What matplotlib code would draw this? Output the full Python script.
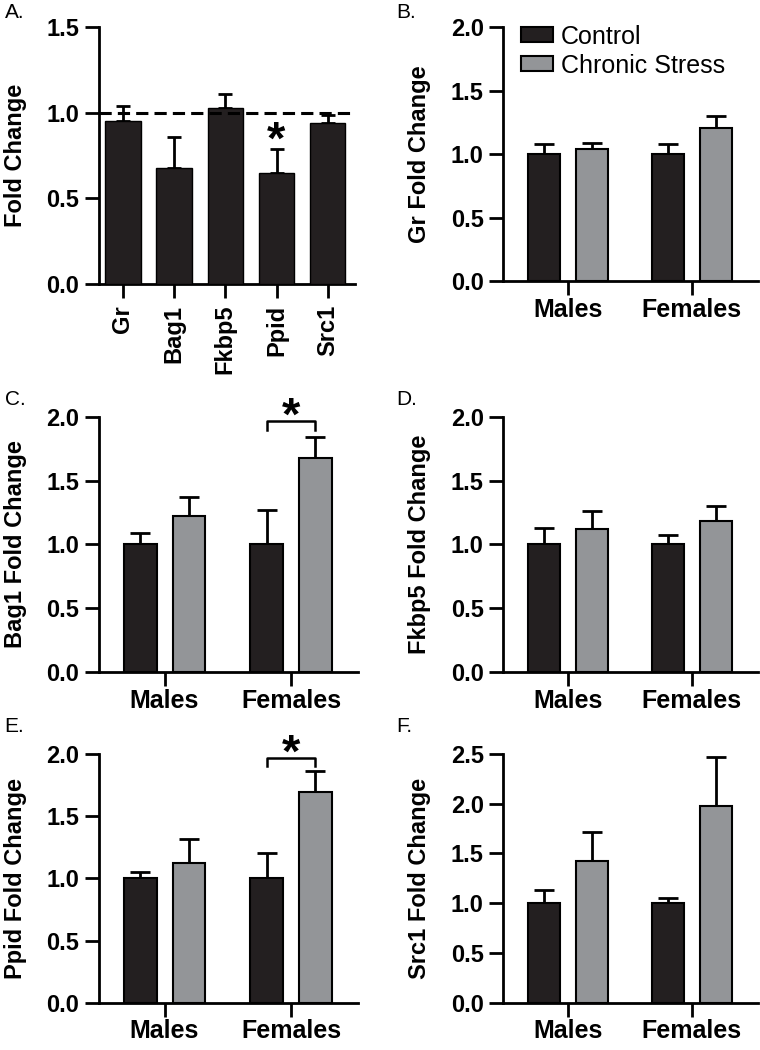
import matplotlib
matplotlib.use("Agg")
import matplotlib.pyplot as plt
import matplotlib.patches as mpatches

plt.rcParams["font.family"] = ["Liberation Sans", "DejaVu Sans"]

# ---- Data ---------------------------------------------------
genes = ["Gr", "Bag1", "Fkbp5", "Ppid", "Src1"]
fold_a = [0.95, 0.68, 1.03, 0.65, 0.94]
err_a = [0.09, 0.18, 0.08, 0.14, 0.05]

groups = ["Males", "Females"]
series = ["Control", "Chronic Stress"]

gr_ctrl, gr_ctrl_err = [1.00, 1.00], [0.08, 0.08]
gr_cs, gr_cs_err = [1.04, 1.21], [0.05, 0.09]

bag1_ctrl, bag1_ctrl_err = [1.00, 1.00], [0.09, 0.27]
bag1_cs, bag1_cs_err = [1.22, 1.68], [0.15, 0.16]

fkbp5_ctrl, fkbp5_ctrl_err = [1.00, 1.00], [0.13, 0.07]
fkbp5_cs, fkbp5_cs_err = [1.12, 1.18], [0.14, 0.12]

ppid_ctrl, ppid_ctrl_err = [1.00, 1.00], [0.05, 0.20]
ppid_cs, ppid_cs_err = [1.12, 1.69], [0.20, 0.17]

src1_ctrl, src1_ctrl_err = [1.00, 1.00], [0.13, 0.05]
src1_cs, src1_cs_err = [1.42, 1.98], [0.30, 0.49]

BLACK = "#231f20"
GREY = "#939598"
LW = 2.0
TICK_FS = 17
LAB_FS = 17

fig = plt.figure(figsize=(7.6, 10.5), dpi=100)


def style_axes(ax):
    for s in ["top", "right"]:
        ax.spines[s].set_visible(False)
    for s in ["left", "bottom"]:
        ax.spines[s].set_linewidth(LW)
    ax.tick_params(axis="both", width=LW, length=10, direction="out")
    ax.tick_params(axis="y", pad=4)
    for lab in ax.get_yticklabels():
        lab.set_fontweight("bold")
        lab.set_fontsize(TICK_FS)


def grouped(rect, ctrl, ctrl_err, cs, cs_err, ylabel, ymax, step, sig=None):
    ax = fig.add_axes(rect)
    x = range(len(groups))
    off, w = 0.193, 0.26
    xc = [i - off for i in x]
    xs = [i + off for i in x]
    ax.bar(xc, ctrl, w, color=BLACK, edgecolor="black", linewidth=1.5, zorder=3)
    ax.bar(xs, cs, w, color=GREY, edgecolor="black", linewidth=1.5, zorder=3)
    # one-sided error bars
    ax.errorbar(xc, ctrl, yerr=[[0] * 2, ctrl_err], fmt="none", ecolor="black",
                elinewidth=LW, capsize=7, capthick=LW, zorder=2)
    ax.errorbar(xs, cs, yerr=[[0] * 2, cs_err], fmt="none", ecolor="black",
                elinewidth=LW, capsize=7, capthick=LW, zorder=2)
    ax.set_xlim(-0.52, 1.53)
    ax.set_ylim(0, ymax)
    ticks = [round(i * step, 2) for i in range(int(round(ymax / step)) + 1)]
    ax.set_yticks(ticks)
    ax.set_yticklabels([f"{t:.1f}" for t in ticks])
    ax.set_xticks(list(x))
    ax.set_xticklabels(groups, fontsize=18, fontweight="bold")
    ax.set_ylabel(ylabel, fontsize=LAB_FS, fontweight="bold", labelpad=14)
    style_axes(ax)
    ax.tick_params(axis="x", pad=2)
    if sig is not None:
        i = sig
        top, drop = 1.97, 1.90
        ax.plot([xc[i], xc[i], xs[i], xs[i]], [drop, top, top, drop],
                color="black", lw=1.8, clip_on=False)
        ax.text((xc[i] + xs[i]) / 2, top - 0.07, "*", ha="center", va="baseline",
                fontsize=34, fontweight="bold", clip_on=False)
    return ax


# ---- Panel A ------------------------------------------------
axA = fig.add_axes([0.130, 0.7295, 0.337, 0.2445])
xa = range(len(genes))
axA.bar(xa, fold_a, 0.69, color=BLACK, edgecolor="black", zorder=3)
axA.errorbar(xa, fold_a, yerr=[[0] * 5, err_a], fmt="none", ecolor="black",
             elinewidth=LW, capsize=5, capthick=LW, zorder=2)
axA.axhline(1.0, color="black", lw=2.2, ls=(0, (4, 2)), zorder=4)
axA.set_xlim(-0.47, 4.53)
axA.set_ylim(0, 1.5)
axA.set_yticks([0, 0.5, 1.0, 1.5])
axA.set_yticklabels(["0.0", "0.5", "1.0", "1.5"])
axA.set_xticks(list(xa))
axA.set_xticklabels(genes, rotation=90, fontsize=TICK_FS, fontweight="bold")
axA.set_ylabel("Fold Change", fontsize=LAB_FS, fontweight="bold", labelpad=14)
style_axes(axA)
axA.tick_params(axis="x", pad=5)
axA.text(3, 0.76, "*", ha="center", va="baseline", fontsize=34, fontweight="bold")

# ---- Panels B-F ---------------------------------------------
axB = grouped([0.662, 0.732, 0.335, 0.242], gr_ctrl, gr_ctrl_err, gr_cs, gr_cs_err,
              "Gr Fold Change", 2.0, 0.5)
axC = grouped([0.130, 0.360, 0.341, 0.243], bag1_ctrl, bag1_ctrl_err, bag1_cs, bag1_cs_err,
              "Bag1 Fold Change", 2.0, 0.5, sig=1)
axD = grouped([0.662, 0.360, 0.335, 0.243], fkbp5_ctrl, fkbp5_ctrl_err, fkbp5_cs, fkbp5_cs_err,
              "Fkbp5 Fold Change", 2.0, 0.5)
axE = grouped([0.130, 0.045, 0.341, 0.237], ppid_ctrl, ppid_ctrl_err, ppid_cs, ppid_cs_err,
              "Ppid Fold Change", 2.0, 0.5, sig=1)
axF = grouped([0.662, 0.045, 0.335, 0.237], src1_ctrl, src1_ctrl_err, src1_cs, src1_cs_err,
              "Src1 Fold Change", 2.5, 0.5)

# ---- Legend -------------------------------------------------
h_ctrl = mpatches.Patch(facecolor=BLACK, edgecolor="black", lw=1.5, label=series[0])
h_cs = mpatches.Patch(facecolor=GREY, edgecolor="black", lw=1.5, label=series[1])
axB.legend(handles=[h_ctrl, h_cs], loc="upper left", bbox_to_anchor=(0.07, 1.01),
           frameon=False, fontsize=18, handlelength=1.3, handleheight=0.55,
           handletextpad=0.3, labelspacing=0.2, borderpad=0, borderaxespad=0)

# ---- Panel letters ------------------------------------------
for lab, (x, y) in zip("ABCDEF", [(0.006, 0.997), (0.522, 0.997), (0.006, 0.629),
                                  (0.522, 0.629), (0.006, 0.317), (0.522, 0.317)]):
    fig.text(x, y, lab + ".", fontsize=15, ha="left", va="top")

plt.savefig("out.png", dpi=100)
plt.close()
